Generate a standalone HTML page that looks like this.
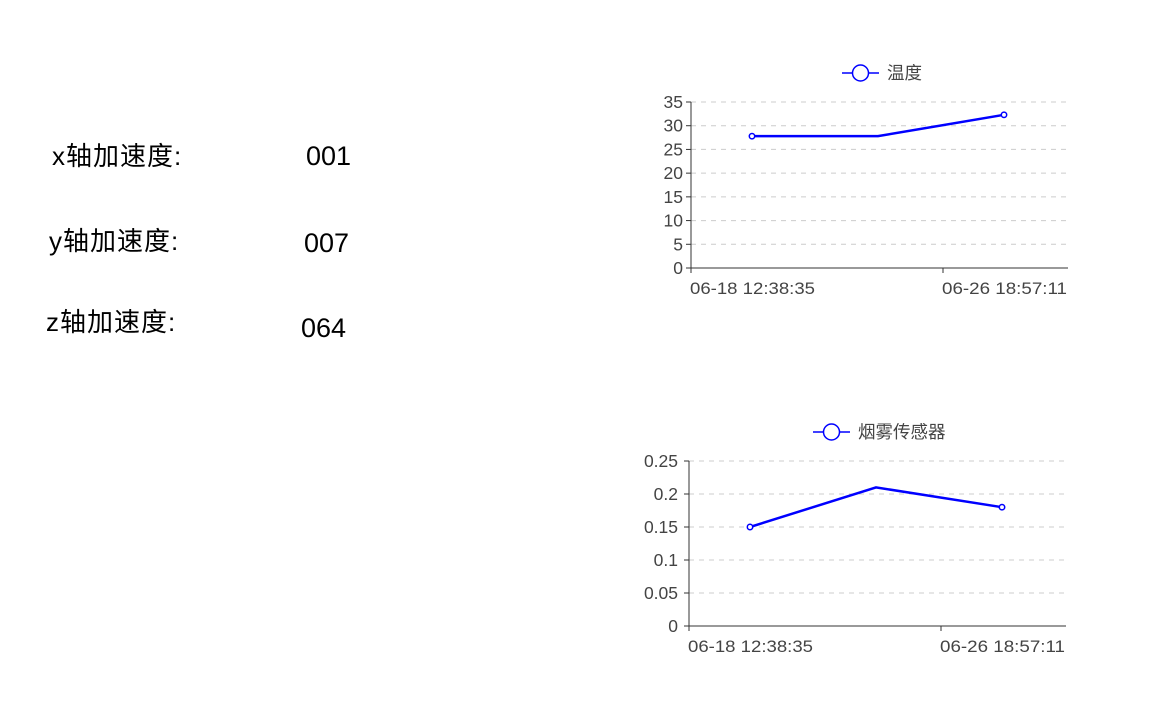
<!DOCTYPE html>
<html><head><meta charset="utf-8"><style>
body{margin:0;width:1150px;height:706px;background:#fff;overflow:hidden;position:relative;font-family:"Liberation Sans","Noto Sans CJK SC",sans-serif}
.t{position:absolute;font-size:26px;color:#000;white-space:nowrap;line-height:1;letter-spacing:1px}
.v{font-size:27px;letter-spacing:0}
</style></head><body>
<div class="t" style="left:52px;top:143px">x轴加速度:</div>
<div class="t v" style="left:306px;top:143px">001</div>
<div class="t" style="left:49px;top:228px">y轴加速度:</div>
<div class="t v" style="left:304px;top:230px">007</div>
<div class="t" style="left:46px;top:309px">z轴加速度:</div>
<div class="t v" style="left:301px;top:315px">064</div>
<svg id="svg" width="1150" height="706" style="position:absolute;left:0;top:0"></svg>
<script>
const times = ["2020-06-20T12:38:35","2020-06-24T15:47:53","2020-06-28T18:57:11"];
const tempValues = [27.8, 27.8, 32.3];
const smokeValues = [0.15, 0.21, 0.18];
const xTickTimes = ["2020-06-18T12:38:35","2020-06-26T18:57:11"];
const xTickLabels = ["06-18 12:38:35","06-26 18:57:11"];
const tempTicks = [0,5,10,15,20,25,30,35];
const smokeTicks = [0,0.05,0.1,0.15,0.2,0.25];
const NS="http://www.w3.org/2000/svg";
const svg=document.getElementById('svg');
function mk(tag,attrs,parent){const e=document.createElementNS(NS,tag);for(const k in attrs)e.setAttribute(k,attrs[k]);(parent||svg).appendChild(e);return e;}
function chart(o){
  const g=mk('g',{});
  
  
  const t0=Date.parse(xTickTimes[0]), t1=Date.parse(xTickTimes[1]);
  const xs=t=>o.x0+(Date.parse(t)-t0)/(t1-t0)*(o.xt-o.x0);
  const ymax=o.ticks[o.ticks.length-1];
  const ys=v=>o.y0-v/ymax*(o.y0-o.ytop);
  o.ticks.forEach(v=>{
    const y=ys(v);
    if(v>0){const l=mk('line',{x1:o.x0,x2:o.x1,y1:y,y2:y,stroke:'#ccc','stroke-dasharray':'5,5'},g);
    }
    mk('line',{x1:o.x0-5,x2:o.x0,y1:y,y2:y,stroke:'#333'},g);
    const tx=mk('text',{x:o.x0-o.lo,y:y+6,'text-anchor':'end','font-size':17.5,fill:'#444'},g);
    tx.textContent=String(v);
    
  });
  mk('line',{x1:o.x0,x2:o.x0,y1:o.ytop,y2:o.y0,stroke:'#333'},g);
  mk('line',{x1:o.x0,x2:o.x1,y1:o.y0,y2:o.y0,stroke:'#333'},g);
  xTickTimes.forEach((t,i)=>{
    const x=xs(t);
    mk('line',{x1:x,x2:x,y1:o.y0,y2:o.y0+5,stroke:'#333'},g);
    const tx=mk('text',{x:x-1,y:o.y0+26,'font-size':17,fill:'#444',textLength:125,lengthAdjust:'spacingAndGlyphs'},g);
    tx.textContent=xTickLabels[i];
    
  });
  const pts=o.values.map((v,i)=>xs(times[i])+','+ys(v)).join(' ');
  const pl=mk('polyline',{points:pts,fill:'none',stroke:'#00f','stroke-width':2.5},g);
  
  o.values.forEach((v,i)=>{
    if(i===1)return;
    const c=mk('circle',{cx:xs(times[i]),cy:ys(v),r:2.7,fill:'#fff',stroke:'#00f','stroke-width':1.5},g);
    
  });
  const lg=mk('g',{},g);
  
  mk('line',{x1:o.lx,x2:o.lx+37,y1:o.ly,y2:o.ly,stroke:'#00f','stroke-width':1.5},lg);
  mk('circle',{cx:o.lx+18.5,cy:o.ly,r:8,fill:'#fff',stroke:'#00f','stroke-width':1.5},lg);
  const lt=mk('text',{x:o.lx+45,y:o.ly+6,'font-size':17.5,fill:'#444'},lg);
  lt.textContent=o.label;
}
chart({name:'temperature-chart',values:tempValues,ticks:tempTicks,x0:691,xt:943,x1:1068,y0:268,ytop:102,lx:842,ly:73,label:'温度',lo:8});
chart({name:'smoke-chart',values:smokeValues,ticks:smokeTicks,x0:689,xt:941,x1:1066,y0:626,ytop:461,lx:813,ly:432,label:'烟雾传感器',lo:11});
</script>
</body></html>
